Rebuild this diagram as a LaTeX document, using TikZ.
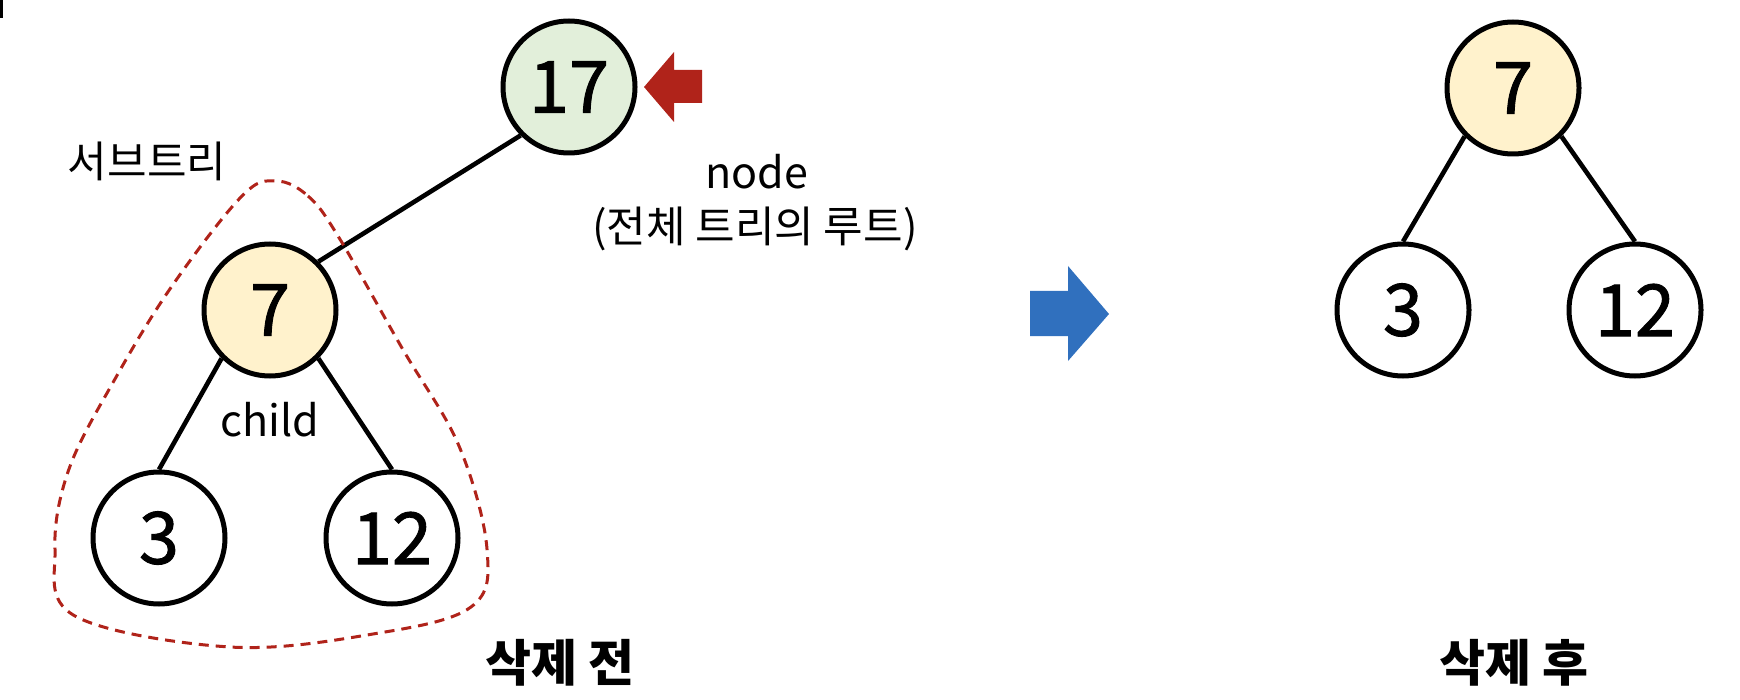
\documentclass[tikz,border=0pt]{standalone}
\usepackage{fontspec}
\setmainfont{Noto Sans CJK KR}
\newfontfamily\digitfont{Noto Sans CJK KR}[FakeBold=1.3]
\definecolor{rootgreen}{HTML}{E2EFDA}
\definecolor{subyellow}{HTML}{FFF2CC}
\definecolor{darkred}{HTML}{B0231A}
\definecolor{arrowblue}{HTML}{3070BE}
\begin{document}
\begin{tikzpicture}[x=0.5pt,y=-0.5pt,
  tnode/.style={circle,draw=black,line width=2.5pt,minimum size=66pt,inner sep=0pt,
    font=\digitfont\fontsize{36}{40}\selectfont,fill=white},
  edge/.style={line width=2.3pt},
  lbl/.style={font=\fontsize{21.5}{25}\selectfont,inner sep=0pt,anchor=base},
  capt/.style={font=\fontsize{25}{30}\selectfont\bfseries,inner sep=0pt,anchor=base},
  blob/.style={draw=darkred,line width=1.5pt,dash pattern=on 5pt off 3.5pt}]
\useasboundingbox (0,0) rectangle (1740,700);
% tiny mark at top-left corner
\draw[line width=1.5pt] (1.2,0) -- (1.2,18);
% nodes
\node[tnode,fill=rootgreen] (r17) at (569,87) {17};
\node[tnode,fill=subyellow] (l7) at (270,310) {7};
\node[tnode] (l3) at (159,538) {3};
\node[tnode] (l12) at (392,538) {12};
\node[tnode,fill=subyellow] (r7) at (1513,88) {7};
\node[tnode] (r3) at (1403,310) {3};
\node[tnode] (r12) at (1635,310) {12};
% edges
\draw[edge] (r17.225) -- (l7.45);
\draw[edge] (l7.225) -- (l3.north);
\draw[edge] (l7.315) -- (l12.north);
\draw[edge] (r7.225) -- (r3.north);
\draw[edge] (r7.315) -- (r12.north);
% subtree outline
\draw[blob] plot[smooth cycle,tension=0.6] coordinates {
  (276,181) (308,196) (338,236) (402,348) (459,446) (487,549) (471,607)
  (373,634) (230,647) (75,616) (55,549) (69,469) (115,379) (172,286) (242,196)};
% arrows
\fill[darkred] (644,87) -- (674,52) -- (674,70) -- (702,70) -- (702,103) -- (674,103) -- (674,122) -- cycle;
\fill[arrowblue] (1030,291) -- (1068,291) -- (1068,266) -- (1109,314) -- (1068,361) -- (1068,336) -- (1030,336) -- cycle;
% labels
\node[lbl] (subtree) at (147,178) {서브트리};
\node[lbl] (nodelbl) at (757,189) {node};
\node[lbl] (rootlbl) at (755,243) {(전체 트리의 루트)};
\node[lbl] (childlbl) at (270,436) {child};
\node[capt] (before) at (560,681) {삭제 전};
\node[capt] (after) at (1514,681) {삭제 후};
\end{tikzpicture}
\end{document}
